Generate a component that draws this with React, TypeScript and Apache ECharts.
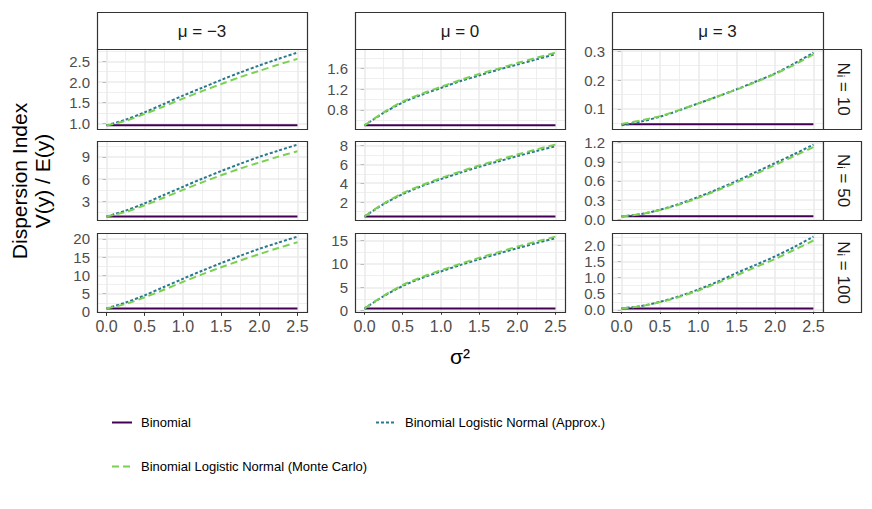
import React, { useEffect, useRef } from "react";
import * as echarts from "echarts";

// ---- data ----
const sigma2 = [0, 0.25, 0.5, 0.75, 1, 1.25, 1.5, 1.75, 2, 2.25, 2.5];
const muLabels = ["μ = −3", "μ = 0", "μ = 3"];
const nLabels = ["Nᵢ = 10", "Nᵢ = 50", "Nᵢ = 100"];
const seriesNames = [
  "Binomial",
  "Binomial Logistic Normal (Approx.)",
  "Binomial Logistic Normal (Monte Carlo)",
];
const xTicks = [0, 0.5, 1, 1.5, 2, 2.5];
const xMinorTicks = [0.25, 0.75, 1.25, 1.75, 2.25];

// Binomial dispersion index for each mu (constant in sigma^2)
const binomialByMu = [0.953, 0.5, 0.047];

// mu = -3
const approx_m3_n10 = [0.953, 1.09, 1.27, 1.47, 1.67, 1.86, 2.05, 2.23, 2.4, 2.56, 2.71];
const mc_m3_n10 = [0.953, 1.06, 1.23, 1.41, 1.6, 1.78, 1.95, 2.12, 2.27, 2.42, 2.56];
const approx_m3_n50 = [0.953, 1.74, 2.73, 3.85, 4.96, 6.05, 7.09, 8.08, 9.02, 9.86, 10.68];
const mc_m3_n50 = [0.953, 1.55, 2.46, 3.48, 4.54, 5.56, 6.52, 7.44, 8.25, 9.05, 9.78];
const approx_m3_n100 = [0.953, 2.55, 4.55, 6.8, 9.05, 11.25, 13.35, 15.35, 17.25, 18.95, 20.6];
const mc_m3_n100 = [0.953, 2.15, 4.0, 6.05, 8.2, 10.26, 12.2, 14.05, 15.8, 17.5, 19.05];
// mu = 0
const approx_0_n10 = [0.5, 0.74, 0.94, 1.09, 1.22, 1.35, 1.46, 1.57, 1.67, 1.77, 1.87];
const mc_0_n10 = [0.5, 0.75, 0.96, 1.11, 1.24, 1.37, 1.49, 1.59, 1.7, 1.8, 1.9];
const approx_0_n50 = [0.5, 1.8, 2.85, 3.7, 4.43, 5.1, 5.73, 6.3, 6.86, 7.4, 7.9];
const mc_0_n50 = [0.5, 1.85, 2.95, 3.8, 4.55, 5.22, 5.87, 6.45, 7.03, 7.57, 8.08];
const approx_0_n100 = [0.5, 3.1, 5.3, 7.0, 8.4, 9.75, 11.0, 12.2, 13.35, 14.45, 15.5];
const mc_0_n100 = [0.5, 3.2, 5.5, 7.2, 8.65, 10.0, 11.3, 12.5, 13.7, 14.8, 15.85];
// mu = 3
const approx_3_n10 = [0.043, 0.056, 0.073, 0.095, 0.119, 0.143, 0.168, 0.195, 0.223, 0.257, 0.295];
const mc_3_n10 = [0.048, 0.06, 0.075, 0.096, 0.119, 0.143, 0.167, 0.193, 0.221, 0.253, 0.289];
const approx_3_n50 = [0.045, 0.08, 0.15, 0.24, 0.35, 0.47, 0.6, 0.74, 0.88, 1.02, 1.17];
const mc_3_n50 = [0.047, 0.08, 0.145, 0.23, 0.335, 0.455, 0.58, 0.71, 0.85, 0.99, 1.13];
const approx_3_n100 = [0.05, 0.12, 0.25, 0.42, 0.63, 0.87, 1.14, 1.39, 1.65, 1.94, 2.26];
const mc_3_n100 = [0.05, 0.115, 0.24, 0.4, 0.6, 0.83, 1.07, 1.32, 1.57, 1.85, 2.14];

const approxRows = [
  [approx_m3_n10, approx_0_n10, approx_3_n10],
  [approx_m3_n50, approx_0_n50, approx_3_n50],
  [approx_m3_n100, approx_0_n100, approx_3_n100],
];
const mcRows = [
  [mc_m3_n10, mc_0_n10, mc_3_n10],
  [mc_m3_n50, mc_0_n50, mc_3_n50],
  [mc_m3_n100, mc_0_n100, mc_3_n100],
];

const yTicks = [
  [[1.0, 1.5, 2.0, 2.5], [0.8, 1.2, 1.6], [0.1, 0.2, 0.3]],
  [[3, 6, 9], [2, 4, 6, 8], [0.0, 0.3, 0.6, 0.9, 1.2]],
  [[0, 5, 10, 15, 20], [0, 5, 10, 15], [0.0, 0.5, 1.0, 1.5, 2.0]],
];
const yDecimals = [
  [1, 1, 1],
  [0, 0, 1],
  [0, 0, 1],
];

// ---- layout / style ----
const COL_LEFT = [97, 355, 612];
const COL_W = [210, 210, 211];
const ROW_TOP = [49, 141, 233];
const ROW_H = [80, 79, 79];
const STRIP_TOP = 12;
const STRIP_H = 37;
const RSTRIP_LEFT = 823;
const RSTRIP_W = 38;
const X_MIN = -0.125;
const X_MAX = 2.625;

const FONT = "'Liberation Sans', Arial, Helvetica, sans-serif";
const COLORS = ["#440154", "#2A788E", "#7AD151"];
const BORDER = "#333333";
const GRID_COLOR = "#EBEBEB";
const TICK_FONT = 15;
const STRIP_FONT = 17;

function buildOption() {
  const grid: any[] = [];
  const xAxis: any[] = [];
  const yAxis: any[] = [];
  const series: any[] = [];
  const graphic: any[] = [];

  for (let r = 0; r < 3; r++) {
    for (let c = 0; c < 3; c++) {
      const idx = r * 3 + c;
      const left = COL_LEFT[c];
      const top = ROW_TOP[r];
      const w = COL_W[c];
      const h = ROW_H[r];
      grid.push({ left, top, width: w, height: h, containLabel: false });

      const ap = approxRows[r][c];
      const mc = mcRows[r][c];
      const b = binomialByMu[c];
      const all = [...ap, ...mc, b];
      const dmin = Math.min(...all);
      const dmax = Math.max(...all);
      const span = dmax - dmin;
      const ymin = dmin - 0.05 * span;
      const ymax = dmax + 0.05 * span;

      const yt = yTicks[r][c];
      const step = yt[1] - yt[0];
      const yMinor: number[] = [];
      for (let k = -1; k < yt.length; k++) {
        const v = yt[0] + (k + 0.5) * step;
        if (v > ymin && v < ymax) yMinor.push(v);
      }
      const dec = yDecimals[r][c];
      const bottom = r === 2;

      xAxis.push({
        gridIndex: idx,
        type: "value",
        min: X_MIN,
        max: X_MAX,
        axisLine: { show: false },
        splitLine: { show: false },
        axisTick: {
          show: bottom,
          customValues: xTicks,
          length: 4,
          lineStyle: { color: BORDER, width: 1 },
        },
        axisLabel: {
          show: bottom,
          customValues: xTicks,
          formatter: (v: number) => v.toFixed(1),
          color: "#4D4D4D",
          fontSize: 16,
          fontFamily: FONT,
          margin: 6,
        },
      });
      yAxis.push({
        gridIndex: idx,
        type: "value",
        min: ymin,
        max: ymax,
        axisLine: { show: false },
        splitLine: { show: false },
        axisTick: {
          show: true,
          customValues: yt,
          length: 4,
          lineStyle: { color: BORDER, width: 1 },
        },
        axisLabel: {
          show: true,
          customValues: yt,
          formatter: (v: number) => v.toFixed(dec),
          color: "#4D4D4D",
          fontSize: TICK_FONT,
          lineHeight: 15,
          hideOverlap: false,
          fontFamily: FONT,
          margin: 7,
        },
      });

      const major = [
        ...xTicks.map((x) => ({ coords: [[x, ymin], [x, ymax]] })),
        ...yt.map((y) => ({ coords: [[X_MIN, y], [X_MAX, y]] })),
      ];
      const minor = [
        ...xMinorTicks.map((x) => ({ coords: [[x, ymin], [x, ymax]] })),
        ...yMinor.map((y) => ({ coords: [[X_MIN, y], [X_MAX, y]] })),
      ];
      series.push({
        type: "lines",
        coordinateSystem: "cartesian2d",
        xAxisIndex: idx,
        yAxisIndex: idx,
        silent: true,
        z: 1,
        lineStyle: { color: GRID_COLOR, width: 0.8, opacity: 1 },
        data: minor,
      });
      series.push({
        type: "lines",
        coordinateSystem: "cartesian2d",
        xAxisIndex: idx,
        yAxisIndex: idx,
        silent: true,
        z: 1,
        lineStyle: { color: GRID_COLOR, width: 1.6, opacity: 1 },
        data: major,
      });

      const lineBase = {
        type: "line",
        xAxisIndex: idx,
        yAxisIndex: idx,
        showSymbol: false,
        symbol: "none",
        silent: true,
        z: 3,
      };
      series.push({
        ...lineBase,
        name: seriesNames[0],
        lineStyle: { color: COLORS[0], width: 2, type: "solid" },
        itemStyle: { color: COLORS[0] },
        data: sigma2.map((s) => [s, b]),
      });
      series.push({
        ...lineBase,
        name: seriesNames[1],
        smooth: 0.3,
        lineStyle: { color: COLORS[1], width: 2, type: [3, 2] },
        itemStyle: { color: COLORS[1] },
        data: sigma2.map((s, i) => [s, ap[i]]),
      });
      series.push({
        ...lineBase,
        name: seriesNames[2],
        smooth: 0.3,
        lineStyle: { color: COLORS[2], width: 2, type: [7, 4] },
        itemStyle: { color: COLORS[2] },
        data: sigma2.map((s, i) => [s, mc[i]]),
      });

      // panel border
      graphic.push({
        type: "rect",
        z: 100,
        silent: true,
        shape: { x: left + 0.5, y: top + 0.5, width: w, height: h },
        style: { fill: "none", stroke: BORDER, lineWidth: 1.2 },
      });
    }
  }

  // top strips
  for (let c = 0; c < 3; c++) {
    graphic.push({
      type: "rect",
      z: 100,
      silent: true,
      shape: { x: COL_LEFT[c] + 0.5, y: STRIP_TOP + 0.5, width: COL_W[c], height: STRIP_H },
      style: { fill: "#FFFFFF", stroke: BORDER, lineWidth: 1.2 },
    });
    graphic.push({
      type: "text",
      z: 101,
      silent: true,
      x: COL_LEFT[c] + COL_W[c] / 2,
      y: STRIP_TOP + STRIP_H / 2 + 1,
      style: {
        text: muLabels[c],
        fontSize: STRIP_FONT,
        fontFamily: FONT,
        fill: "#1A1A1A",
        align: "center",
        verticalAlign: "middle",
        textAlign: "center",
        textVerticalAlign: "middle",
      },
    });
  }
  // right strips
  for (let r = 0; r < 3; r++) {
    graphic.push({
      type: "rect",
      z: 100,
      silent: true,
      shape: { x: RSTRIP_LEFT + 0.5, y: ROW_TOP[r] + 0.5, width: RSTRIP_W, height: ROW_H[r] },
      style: { fill: "#FFFFFF", stroke: BORDER, lineWidth: 1.2 },
    });
    graphic.push({
      type: "text",
      z: 101,
      silent: true,
      x: RSTRIP_LEFT + RSTRIP_W / 2 + 1,
      y: ROW_TOP[r] + ROW_H[r] / 2,
      rotation: -Math.PI / 2,
      style: {
        text: nLabels[r],
        fontSize: STRIP_FONT,
        fontFamily: FONT,
        fill: "#1A1A1A",
        align: "center",
        verticalAlign: "middle",
        textAlign: "center",
        textVerticalAlign: "middle",
      },
    });
  }
  // axis titles
  graphic.push({
    type: "text",
    z: 101,
    silent: true,
    x: 31,
    y: 181,
    rotation: Math.PI / 2,
    style: {
      text: "Dispersion Index\nV(y) / E(y)",
      fontSize: 21,
      lineHeight: 23,
      fontFamily: FONT,
      fill: "#000000",
      align: "center",
      verticalAlign: "middle",
      textAlign: "center",
      textVerticalAlign: "middle",
    },
  });
  graphic.push({
    type: "text",
    z: 101,
    silent: true,
    x: 460,
    y: 356,
    style: {
      text: "σ²",
      fontSize: 21,
      fontFamily: FONT,
      fill: "#000000",
      align: "center",
      verticalAlign: "middle",
      textAlign: "center",
      textVerticalAlign: "middle",
    },
  });

  const legendBase = {
    orient: "horizontal",
    itemWidth: 20,
    itemHeight: 14,
    padding: 0,
    selectedMode: false,
    itemStyle: { opacity: 0, borderWidth: 0 },
    textStyle: { fontSize: 13, color: "#000000", fontFamily: FONT, padding: [0, 0, 0, 4] },
  };
  const legend = [
    { ...legendBase, data: [seriesNames[0]], left: 111, top: 416 },
    { ...legendBase, data: [seriesNames[1]], left: 375, top: 416 },
    { ...legendBase, data: [seriesNames[2]], left: 111, top: 460 },
  ];

  return {
    animation: false,
    backgroundColor: "#FFFFFF",
    textStyle: { fontFamily: FONT },
    grid,
    xAxis,
    yAxis,
    series,
    legend,
    graphic,
  };
}

export default function App() {
  const ref = useRef<HTMLDivElement>(null);
  useEffect(() => {
    if (!ref.current) return;
    const chart = echarts.init(ref.current, undefined, { renderer: "svg" });
    chart.setOption(buildOption() as any);
    return () => chart.dispose();
  }, []);
  return (
    <div
      ref={ref}
      style={{ position: "fixed", left: 0, top: 0, width: 872, height: 509, background: "#fff" }}
    />
  );
}
